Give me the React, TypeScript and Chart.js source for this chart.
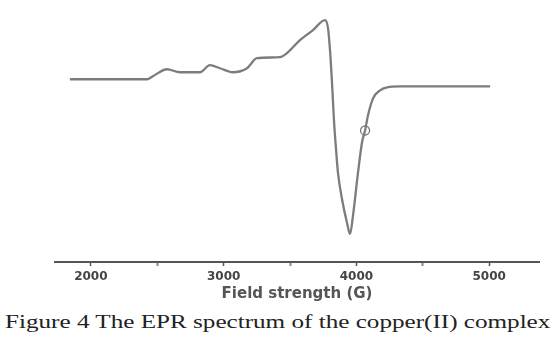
import React, { useEffect, useRef } from "react";
import { Chart, registerables } from "chart.js";

Chart.register(...registerables);

// EPR spectrum: field (G) vs. derivative intensity (arbitrary units)
const fieldG = [
  1842, 2369, 2422, 2467, 2573, 2671, 2821, 2897, 2972, 3070, 3176, 3251,
  3424, 3477, 3575, 3673, 3763, 3786, 3801, 3816, 3831, 3846, 3861, 3891,
  3929, 3952, 3974, 4012, 4042, 4065, 4087, 4125, 4178, 4231, 4329, 4555,
  5007,
];
const intensity = [
  1, 1, 1, 4, 11, 8, 8, 15, 12, 8, 12, 22,
  23, 27, 40, 50, 60, 52, 30, -2, -40, -68, -92, -118,
  -142, -153, -135, -92, -62, -50, -35, -18, -10, -7, -6, -6,
  -6,
];
// g-marker (circle) on the spectrum
const markerField = [4065];
const markerIntensity = [-50];

const tickValues = [2000, 2500, 3000, 3500, 4000, 4500, 5000];
const xTitle = "Field strength (G)";
const caption = "Figure 4 The EPR spectrum of the copper(II) complex";

export default function App() {
  const canvasRef = useRef<HTMLCanvasElement | null>(null);
  const capRef = useRef<HTMLDivElement | null>(null);

  useEffect(() => {
    const canvas = canvasRef.current;
    if (!canvas) return;
    const chart = new Chart(canvas, {
      type: "line",
      data: {
        datasets: [
          {
            data: fieldG.map((x, i) => ({ x, y: intensity[i] })),
            borderColor: "#7c7c7c",
            borderWidth: 2.3,
            pointRadius: 0,
            tension: 0.4,
            cubicInterpolationMode: "monotone",
            fill: false,
          },
          {
            data: markerField.map((x, i) => ({ x, y: markerIntensity[i] })),
            showLine: false,
            pointRadius: 4.5,
            pointStyle: "circle",
            pointBorderColor: "#777",
            pointBackgroundColor: "rgba(255,255,255,0)",
            pointBorderWidth: 1.3,
          },
        ],
      },
      options: {
        responsive: false,
        animation: false,
        layout: { padding: { left: 55, right: 16, top: 10, bottom: 0 } },
        plugins: {
          legend: { display: false },
          tooltip: { enabled: false },
          title: { display: false },
        },
        scales: {
          x: {
            type: "linear",
            min: 1730,
            max: 5375,
            afterBuildTicks: (scale: any) => {
              scale.ticks = tickValues.map((v) => ({ value: v }));
            },
            afterFit: (scale: any) => {
              scale.height = 41;
            },
            border: { display: true, color: "#555", width: 2 },
            grid: {
              drawOnChartArea: false,
              drawTicks: true,
              tickLength: 4,
              tickColor: (ctx: any) =>
                ctx.tick && ctx.tick.value % 1000 === 0 ? "#555" : "#888",
              tickWidth: (ctx: any) =>
                ctx.tick && ctx.tick.value % 1000 === 0 ? 1.5 : 2,
            },
            ticks: {
              padding: 4,
              autoSkip: false,
              maxRotation: 0,
              color: "#444",
              font: { family: "DejaVu Sans", size: 12, weight: "bold" },
              callback: (v: any) => (Number(v) % 1000 === 0 ? String(v) : ""),
            },
            title: {
              display: true,
              text: xTitle,
              color: "#555",
              padding: { top: 0, bottom: 0 },
              font: { family: "DejaVu Sans", size: 15, weight: "bold" },
            },
          },
          y: {
            display: false,
            min: -181,
            max: 70,
          },
        },
      },
    });

    const cap = capRef.current;
    if (cap) {
      cap.style.transform = "none";
      const w = cap.scrollWidth;
      if (w > 0) cap.style.transform = `scaleX(${545 / w})`;
    }

    return () => chart.destroy();
  }, []);

  return (
    <div
      style={{
        position: "fixed",
        left: 0,
        top: 0,
        width: 555,
        height: 337,
        background: "#fff",
        overflow: "hidden",
      }}
    >
      <canvas
        ref={canvasRef}
        width={555}
        height={303}
        style={{ position: "absolute", left: 0, top: 0, width: 555, height: 303 }}
      />
      <div
        ref={capRef}
        style={{
          position: "absolute",
          left: 5,
          top: 312,
          whiteSpace: "nowrap",
          fontFamily: "'Liberation Serif', serif",
          fontSize: 19,
          lineHeight: "19px",
          color: "#222",
          transformOrigin: "0 0",
          display: "inline-block",
        }}
      >
        {caption}
      </div>
    </div>
  );
}
